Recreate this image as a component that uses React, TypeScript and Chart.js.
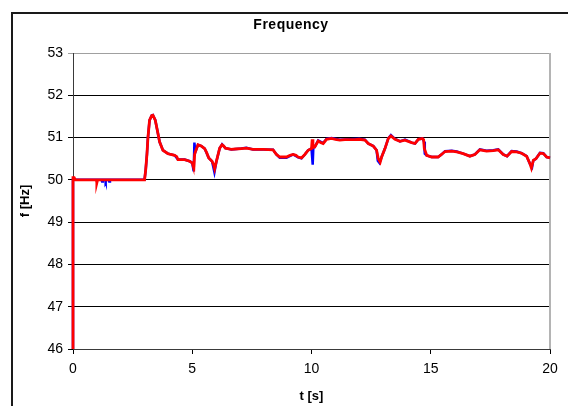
import { useEffect, useRef } from "react";
import { Chart, registerables } from "chart.js";

Chart.register(...registerables);

const chartTitle = "Frequency";
const xAxisTitle = "t [s]";
const yAxisTitle = "f [Hz]";
const xMin = 0;
const xMax = 20;
const xStep = 5;
const yMin = 46;
const yMax = 53;
const yStep = 1;

const redTime = [
  0, 0, 0.05, 0.1, 0.98, 1.0, 1.03, 3.0, 3.05, 3.1, 3.14, 3.21, 3.3, 3.35, 3.45, 3.56, 3.63, 3.77, 3.98,
  4.1, 4.26, 4.35, 4.4, 4.68, 4.89, 5.0, 5.03, 5.07, 5.1, 5.13, 5.24, 5.38, 5.52, 5.6, 5.69, 5.83, 5.9,
  5.94, 6.01, 6.15, 6.25, 6.32, 6.39, 6.64, 6.8, 7.06, 7.27, 7.55, 7.97, 8.39, 8.45, 8.53, 8.67, 8.95,
  9.1, 9.23, 9.35, 9.44, 9.58, 9.72, 9.86, 10.0, 10.03, 10.06, 10.14, 10.28, 10.4, 10.49, 10.63, 10.84,
  11.0, 11.19, 11.4, 11.61, 11.82, 12.0, 12.24, 12.38, 12.59, 12.73, 12.8, 12.88, 12.94, 13.08, 13.22,
  13.33, 13.5, 13.71, 13.92, 14.2, 14.34, 14.48, 14.65, 14.7, 14.73, 14.83, 15.04, 15.31, 15.45, 15.6,
  15.88, 16.09, 16.36, 16.64, 16.85, 17.06, 17.34, 17.62, 17.83, 18.04, 18.2, 18.39, 18.6, 18.81, 19.02,
  19.16, 19.22, 19.3, 19.41, 19.58, 19.72, 19.86, 20.0,
];
const redFreq = [
  46, 50.05, 50.05, 50, 50, 49.93, 50, 50, 50.25, 50.6, 50.98, 51.41, 51.52, 51.53, 51.41, 51.1, 50.9, 50.7, 50.62,
  50.6, 50.58, 50.55, 50.48, 50.48, 50.44, 50.4, 50.34, 50.3, 50.6, 50.66, 50.83, 50.8, 50.74, 50.65, 50.52, 50.44, 50.35,
  50.26, 50.43, 50.75, 50.83, 50.8, 50.75, 50.72, 50.73, 50.74, 50.75, 50.72, 50.72, 50.71, 50.66, 50.6, 50.54, 50.54,
  50.58, 50.6, 50.58, 50.54, 50.52, 50.6, 50.7, 50.74, 50.96, 50.76, 50.78, 50.92, 50.88, 50.86, 50.96, 50.98,
  50.96, 50.94, 50.95, 50.95, 50.95, 50.96, 50.94, 50.86, 50.8, 50.7, 50.5, 50.42, 50.54, 50.74, 50.98,
  51.04, 50.96, 50.91, 50.94, 50.88, 50.86, 50.96, 50.98, 50.95, 50.74, 50.58, 50.54, 50.54, 50.6, 50.67,
  50.68, 50.66, 50.62, 50.56, 50.6, 50.71, 50.68, 50.69, 50.71, 50.6, 50.56, 50.67, 50.66, 50.63, 50.56,
  50.38, 50.28, 50.46, 50.5, 50.63, 50.62, 50.54, 50.52,
];

const blueTime = [
  0, 0, 0.1, 1.2, 1.22, 1.25, 1.35, 1.37, 1.4, 1.5, 1.52, 1.55, 3.0, 3.05, 3.1, 3.14, 3.21, 3.3, 3.35, 3.45,
  3.56, 3.63, 3.77, 3.98, 4.26, 4.4, 4.68, 4.89, 5.0, 5.06, 5.09, 5.13, 5.24, 5.38, 5.52, 5.69, 5.83, 5.93,
  6.01, 6.15, 6.25, 6.39, 6.64, 7.06, 7.27, 7.55, 7.97, 8.39, 8.53, 8.67, 8.95, 9.23, 9.44, 9.58, 9.72,
  9.86, 10.0, 10.05, 10.08, 10.14, 10.28, 10.49, 10.63, 10.84, 11.19, 11.61, 12.0, 12.24, 12.38, 12.59,
  12.73, 12.78, 12.85, 12.94, 13.08, 13.22, 13.33, 13.5, 13.71, 13.92, 14.2, 14.34, 14.48, 14.65, 14.72,
  14.75, 14.83, 15.04, 15.31, 15.45, 15.6, 15.88, 16.09, 16.36, 16.64, 16.85, 17.06, 17.34, 17.62, 17.83,
  18.04, 18.2, 18.39, 18.6, 18.81, 19.02, 19.16, 19.25, 19.3, 19.41, 19.58, 19.72, 19.86, 20.0,
];
const blueFreq = [
  46, 50, 50, 50, 49.96, 50, 50, 49.96, 50, 50, 49.96, 50, 50, 50.25, 50.6, 50.98, 51.41, 51.52, 51.53, 51.41,
  51.1, 50.9, 50.7, 50.62, 50.58, 50.48, 50.48, 50.44, 50.4, 50.2, 50.88, 50.66, 50.83, 50.8, 50.74, 50.52, 50.44, 50.18,
  50.43, 50.75, 50.84, 50.75, 50.72, 50.74, 50.76, 50.72, 50.72, 50.71, 50.6, 50.52, 50.52, 50.6, 50.53, 50.51, 50.6,
  50.7, 50.74, 50.36, 50.8, 50.78, 50.93, 50.87, 50.97, 50.99, 50.95, 50.96, 50.97, 50.95, 50.86, 50.8,
  50.7, 50.45, 50.4, 50.54, 50.74, 50.98, 51.06, 50.97, 50.91, 50.95, 50.88, 50.86, 50.96, 50.98, 50.9,
  50.62, 50.58, 50.54, 50.54, 50.6, 50.68, 50.69, 50.67, 50.62, 50.56, 50.6, 50.72, 50.69, 50.7, 50.72,
  50.6, 50.56, 50.68, 50.67, 50.63, 50.56, 50.38, 50.3, 50.46, 50.5, 50.64, 50.63, 50.54, 50.52,
];

const FONT = "'Liberation Sans', Arial, sans-serif";

const framePlugin = {
  id: "frame",
  beforeDraw(chart: any) {
    const ctx = chart.ctx;
    ctx.save();
    ctx.fillStyle = "#ffffff";
    ctx.fillRect(0, 0, chart.width, chart.height);
    ctx.strokeStyle = "#1a1a1a";
    ctx.lineWidth = 2;
    ctx.strokeRect(12, 13, 700, 600);
    ctx.restore();
  },
  beforeDatasetsDraw(chart: any) {
    const { ctx, chartArea } = chart;
    ctx.save();
    ctx.strokeStyle = "#b4b4b4";
    ctx.lineWidth = 2;
    ctx.beginPath();
    ctx.moveTo(Math.round(chartArea.right), chartArea.top);
    ctx.lineTo(Math.round(chartArea.right), chartArea.bottom);
    ctx.stroke();
    ctx.restore();
  },
  afterDraw(chart: any) {
    const ctx = chart.ctx;
    ctx.save();
    ctx.fillStyle = "#000000";
    ctx.font = `bold 14px ${FONT}`;
    try {
      (ctx as any).letterSpacing = "0.5px";
    } catch (e) {}
    ctx.textAlign = "center";
    ctx.textBaseline = "middle";
    ctx.fillText(chartTitle, 291, 25);
    ctx.restore();
  },
};

export default function App() {
  const ref = useRef<HTMLCanvasElement | null>(null);

  useEffect(() => {
    if (!ref.current) return;
    const red = redTime.map((t, i) => ({ x: t, y: redFreq[i] }));
    const blue = blueTime.map((t, i) => ({ x: t, y: blueFreq[i] }));
    const chart = new Chart(ref.current, {
      type: "line",
      data: {
        datasets: [
          {
            label: "red",
            data: red,
            borderColor: "#ff0000",
            borderWidth: 2.8,
            pointRadius: 0,
            tension: 0,
            clip: 4,
            order: 0,
          },
          {
            label: "blue",
            data: blue,
            borderColor: "#0000ff",
            borderWidth: 2.5,
            pointRadius: 0,
            tension: 0,
            clip: 4,
            order: 1,
          },
        ],
      },
      options: {
        animation: false,
        responsive: false,
        devicePixelRatio: 1,
        layout: { padding: { left: 0, right: 18, top: 53, bottom: 0 } },
        plugins: {
          legend: { display: false },
          title: { display: false },
          tooltip: { enabled: false },
        },
        scales: {
          x: {
            type: "linear",
            min: xMin,
            max: xMax,
            afterFit: (s: any) => {
              s.height = 57;
            },
            ticks: {
              stepSize: xStep,
              color: "#000000",
              font: { family: FONT, size: 14 },
              padding: 6.5,
            },
            grid: {
              display: true,
              drawOnChartArea: false,
              drawTicks: true,
              tickLength: 5,
              color: "#000000",
            },
            border: { display: true, color: "#3a3a3a", width: 1 },
            title: {
              display: true,
              text: xAxisTitle,
              color: "#000000",
              font: { family: FONT, size: 13, weight: "bold" },
              padding: { top: 0, bottom: 2.2 },
            },
          },
          y: {
            type: "linear",
            min: yMin,
            max: yMax,
            afterFit: (s: any) => {
              s.width = 73;
            },
            ticks: {
              stepSize: yStep,
              color: "#000000",
              font: { family: FONT, size: 14 },
              padding: 5,
            },
            grid: {
              display: true,
              drawTicks: true,
              tickLength: 5,
              color: (c: any) => (c.tick && c.tick.value === yMax ? "#a0a0a0" : "#000000"),
            },
            border: { display: true, color: "#3a3a3a", width: 1 },
            title: {
              display: true,
              text: yAxisTitle,
              color: "#000000",
              font: { family: FONT, size: 13, weight: "bold" },
              padding: { top: 17.2, bottom: 0 },
            },
          },
        },
      },
      plugins: [framePlugin],
    });
    return () => chart.destroy();
  }, []);

  return (
    <div style={{ position: "absolute", left: 0, top: 0, width: 568, height: 406 }}>
      <canvas ref={ref} width={568} height={406} />
    </div>
  );
}
